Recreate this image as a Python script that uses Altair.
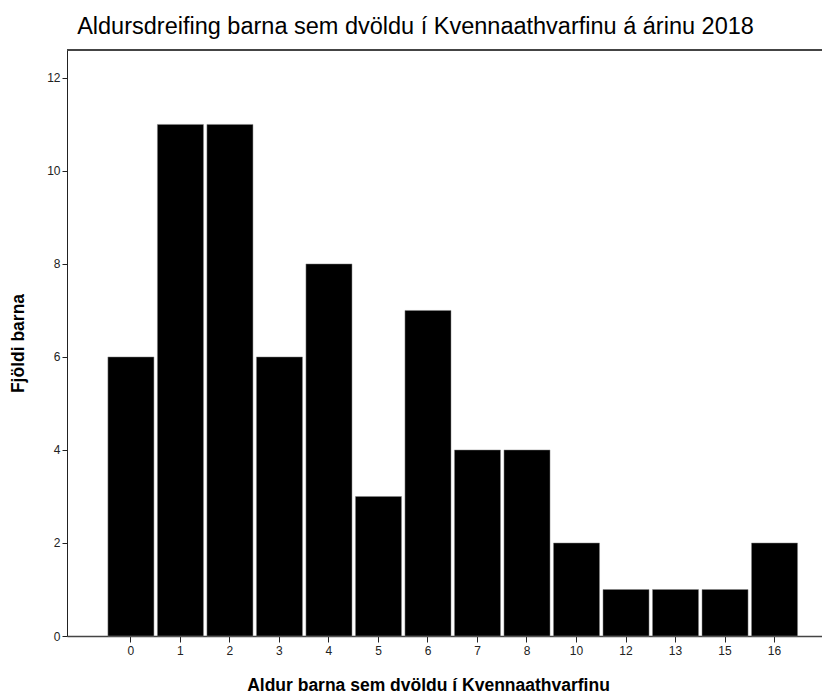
import altair as alt
import pandas as pd

ages = ["0", "1", "2", "3", "4", "5", "6", "7", "8", "10", "12", "13", "15", "16"]
counts = [6, 11, 11, 6, 8, 3, 7, 4, 4, 2, 1, 1, 1, 2]
y_ticks = [0, 2, 4, 6, 8, 10, 12]

df = pd.DataFrame({"age": ages, "count": counts})

W = 755
H = 586
FONT = "Liberation Sans"

bars = alt.Chart(df).mark_bar(color="black", stroke="#888", strokeWidth=0.5).encode(
    x=alt.X("age:N", sort=ages,
            scale=alt.Scale(paddingInner=0.07, paddingOuter=0.66, align=0.626),
            axis=alt.Axis(title="Aldur barna sem dvöldu í Kvennaathvarfinu",
                          labelAngle=0, labelFontSize=12, labelColor="#222",
                          labelFont=FONT, titleFont=FONT, titleFontSize=17.5,
                          titleFontWeight="bold", titleColor="black",
                          titleX=361,
                          tickSize=6, tickColor="#222", domainColor="#444",
                          domainWidth=1.5, labelPadding=3, titlePadding=20,
                          grid=False)),
    y=alt.Y("count:Q", scale=alt.Scale(domain=[0, 12.6], nice=False),
            axis=alt.Axis(title="Fjöldi barna", values=y_ticks,
                          labelFontSize=12, labelColor="#222", labelFont=FONT,
                          titleFont=FONT, titleFontSize=17.5, titleFontWeight="bold",
                          titleColor="black", tickSize=5, tickColor="#222",
                          domainColor="#222", domainWidth=1, labelPadding=2,
                          titlePadding=19, grid=False)),
)

top_line = alt.Chart(df).mark_rule(color="#444", strokeWidth=1.5).encode(
    x=alt.value(0), x2=alt.value(W), y=alt.value(0)
)

chart = alt.layer(bars, top_line).properties(
    width=W, height=H,
    title=alt.TitleParams("Aldursdreifing barna sem dvöldu í Kvennaathvarfinu á árinu 2018",
                          font=FONT, fontSize=23.5, fontWeight="normal", color="black",
                          anchor="middle", frame="group", dx=-29, offset=11),
    autosize=alt.AutoSizeParams(type="none"),
    padding={"left": 59, "top": 42, "right": 0, "bottom": 60},
).configure_view(stroke=None)

chart.save("out.html", embed_options={"renderer": "svg", "actions": False})
